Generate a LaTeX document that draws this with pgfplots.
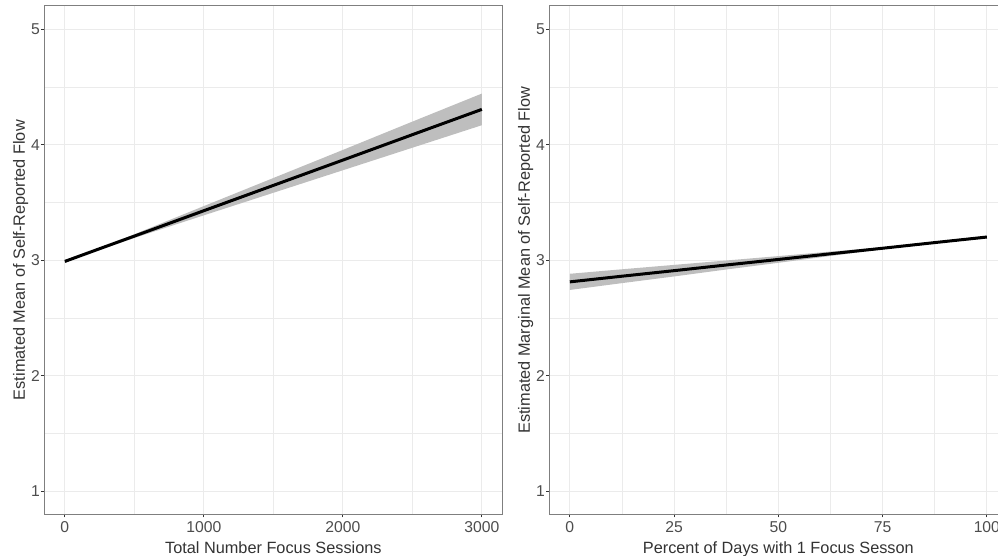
\documentclass[border=0pt]{standalone}
\usepackage{pgfplots}
\pgfplotsset{compat=1.18}
\usepackage{pgfplotstable}
\usepgfplotslibrary{fillbetween}
\usepackage{fontspec}
\setmainfont{Liberation Sans}

\definecolor{ggrid}{HTML}{EBEBEB}
\definecolor{gborder}{HTML}{7F7F7F}
\definecolor{gtick}{HTML}{333333}
\definecolor{gtext}{HTML}{4D4D4D}
\definecolor{gband}{HTML}{BEBEBE}

% fitted line with confidence band
\pgfplotstableread{
x    fit    lo     hi
0    2.989  2.977  3.001
250  3.099  3.091  3.107
500  3.208  3.192  3.224
750  3.318  3.290  3.346
1000 3.428  3.388  3.468
1500 3.647  3.583  3.711
2000 3.866  3.778  3.954
2500 4.086  3.973  4.199
3000 4.305  4.168  4.442
}\sessiondata

\pgfplotstableread{
x     fit    lo     hi
0     2.812  2.742  2.882
12.5  2.861  2.801  2.921
25    2.909  2.859  2.959
37.5  2.958  2.919  2.997
50    3.006  2.977  3.035
62.5  3.055  3.036  3.074
75    3.103  3.094  3.112
87.5  3.152  3.148  3.156
100   3.200  3.187  3.213
}\percentdata

\pgfplotsset{
  ggpanel/.style={
    scale only axis,
    width=458.7pt, height=508.3pt,
    anchor=south west,
    ymin=0.8, ymax=5.2,
    ytick={1,2,3,4,5},
    minor y tick num=1,
    grid=both,
    major grid style={color=ggrid, line width=1.1pt},
    minor grid style={color=ggrid, line width=0.55pt},
    axis line style={color=gborder, line width=1pt},
    tick align=outside,
    major tick length=3pt,
    minor tick length=0pt,
    tick style={color=gtick, line width=0.9pt},
    xtick pos=bottom, ytick pos=left,
    /pgf/number format/assume math mode=true,
    /pgf/number format/1000 sep={},
    ticklabel style={font=\fontsize{15.7}{18}\selectfont, text=gtext},
    xticklabel style={anchor=north, inner sep=0pt, yshift=-4.4pt},
    yticklabel style={anchor=east, inner sep=0pt, xshift=-1pt},
    label style={font=\fontsize{16.3}{19}\selectfont, text=gtick},
    xlabel style={at={(axis description cs:0.5,0)}, anchor=north, inner sep=0pt, yshift=-27.4pt},
    ylabel style={at={(axis description cs:-0.034,0.5)}, anchor=south, inner sep=0pt},
  }
}

\begin{document}
\begin{tikzpicture}
\begin{axis}[
  ggpanel,
  at={(44pt,41.7pt)},
  xmin=-150, xmax=3150,
  xtick={0,1000,2000,3000},
  minor x tick num=1,
  xlabel={Total Number Focus Sessions},
  ylabel={Estimated Mean of Self-Reported Flow},
]
  \addplot[name path=up1, draw=none] table[x=x, y=hi] {\sessiondata};
  \addplot[name path=lo1, draw=none] table[x=x, y=lo] {\sessiondata};
  \addplot[fill=gband, draw=none] fill between[of=up1 and lo1];
  \addplot[black, line width=3pt] table[x=x, y=fit] {\sessiondata};
\end{axis}

\begin{axis}[
  ggpanel,
  at={(549pt,41.7pt)},
  xmin=-5, xmax=105,
  xtick={0,25,50,75,100},
  minor x tick num=1,
  xlabel={Percent of Days with 1 Focus Sesson},
  ylabel={Estimated Marginal Mean of Self-Reported Flow},
]
  \addplot[name path=up2, draw=none] table[x=x, y=hi] {\percentdata};
  \addplot[name path=lo2, draw=none] table[x=x, y=lo] {\percentdata};
  \addplot[fill=gband, draw=none] fill between[of=up2 and lo2];
  \addplot[black, line width=3pt] table[x=x, y=fit] {\percentdata};
\end{axis}

\pgfresetboundingbox
\useasboundingbox (0,0) rectangle (998pt,556pt);
\end{tikzpicture}
\end{document}
